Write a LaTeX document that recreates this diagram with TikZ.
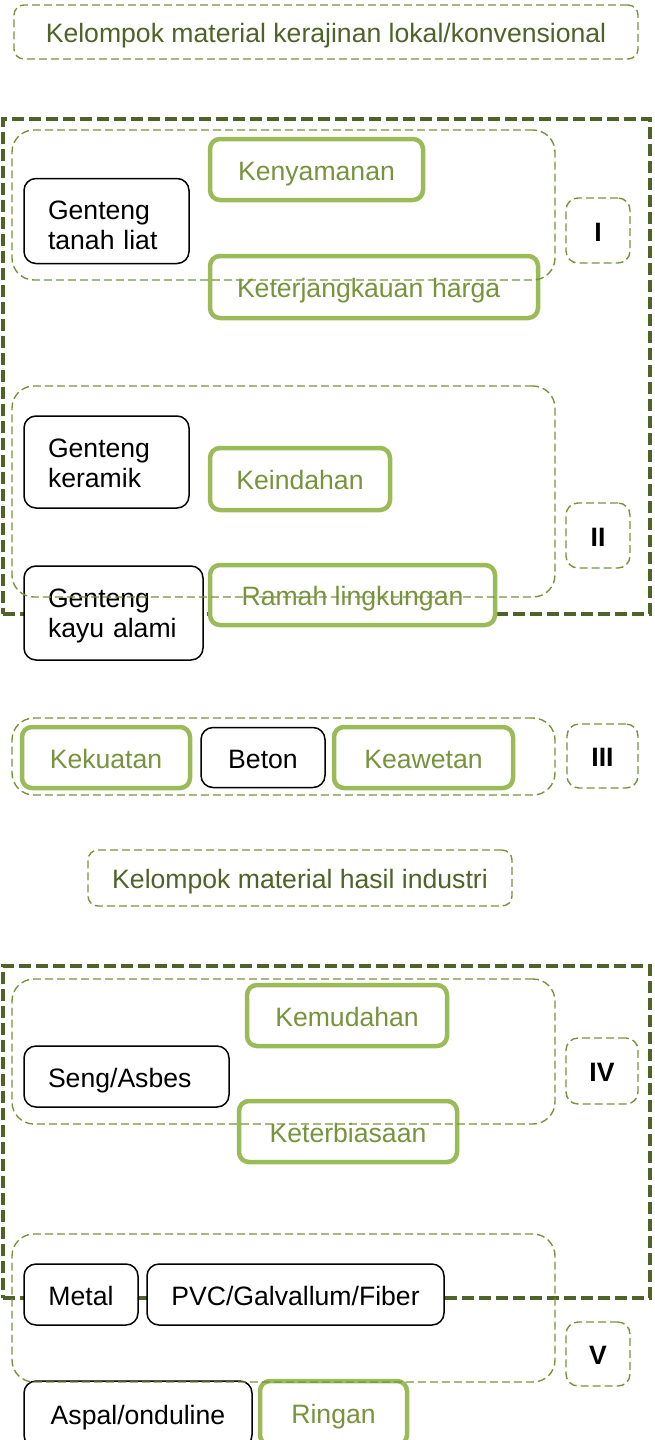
\documentclass[tikz,border=0pt]{standalone}
\usepackage{fontspec}
\setmainfont{Liberation Sans}
\usetikzlibrary{positioning}

\begin{document}
\begin{tikzpicture}[x=1pt,y=-1pt,
	every node/.style={font=\fontsize{26.6}{30}\selectfont,inner sep=0pt,text height=25pt,text depth=4pt},
	material node/.style={draw=black,line width=1.5pt,rounded corners=12pt,fill=white,align=left},
	left node/.style={inner xsep=24pt,align=left},
	criteria node/.style={draw=lightgreen,line width=4.5pt,rounded corners=10pt,fill=white,text=midgreen},
	group box/.style={draw=midgreen,line width=1.4pt,dash pattern=on 8pt off 4pt,rounded corners=22pt},
	level node/.style={draw=midgreen,line width=1.4pt,dash pattern=on 8pt off 4pt,rounded corners=12pt,
		font=\fontsize{26.6}{30}\selectfont\bfseries},
	title node/.style={draw=midgreen,line width=1.4pt,dash pattern=on 8pt off 4pt,rounded corners=10pt,text=darkolive},
	frame box/.style={draw=darkolive,line width=3.5pt,dash pattern=on 12pt off 5pt}]
	
	\definecolor{darkolive}{RGB}{79,98,40}
	\definecolor{midgreen}{RGB}{119,147,60}
	\definecolor{lightgreen}{RGB}{155,187,89}
	
	\useasboundingbox (0,0) rectangle (655,1440);
	
	% frames
	\node[frame box, minimum width=647pt, minimum height=495pt] (frameA) at (326.5,366.5) {};
	\node[frame box, minimum width=647pt, minimum height=332pt] (frameB) at (326.5,1132) {};
	
	% lokal / konvensional
	\node[title node, minimum width=624pt, minimum height=54pt] (lokal) at (326,32) {Kelompok material kerajinan lokal/konvensional};
	
	\node[material node, left node, text width=117pt, text height=41pt, text depth=44pt] (tanah) at (106.5,221) {Genteng\\tanah liat};
	\node[criteria node, minimum width=213pt, minimum height=61pt] (nyaman) at (316.5,169.5) {Kenyamanan};
	\node[criteria node, inner xsep=27pt, text width=274pt, align=left, minimum height=62pt] (harga) at (374,287) {Keterjangkauan harga};
	
	\node[material node, left node, text width=117pt, text height=41pt, text depth=51pt] (keramik) at (106.5,462) {Genteng\\keramik};
	\node[criteria node, minimum width=180pt, minimum height=62pt] (indah) at (300,479) {Keindahan};
	\node[material node, left node, text width=131pt, text height=41pt, text depth=53pt] (kayu) at (113.5,613) {Genteng\\kayu alami};
	\node[criteria node, minimum width=285pt, minimum height=60pt] (ramah) at (352.5,595) {Ramah lingkungan};
	
	\node[criteria node, minimum width=168pt, minimum height=61pt] (kuat) at (106,757.5) {Kekuatan};
	\node[material node, minimum width=124pt, minimum height=60pt, right=8pt of kuat] (beton) {Beton};
	\node[criteria node, minimum width=179pt, minimum height=61pt, right=6pt of beton] (awet) {Keawetan};
	
	% industri
	\node[title node, minimum width=424pt, minimum height=56pt] (industri) at (300,878) {Kelompok material hasil industri};
	
	\node[criteria node, minimum width=200pt, minimum height=61pt] (mudah) at (347,1015.5) {Kemudahan};
	\node[material node, left node, text width=157pt, minimum height=61pt] (seng) at (126.5,1076.5) {Seng/Asbes};
	\node[criteria node, minimum width=218pt, minimum height=61pt] (biasa) at (348,1131.5) {Keterbiasaan};
	
	\node[material node, minimum width=114pt, minimum height=61pt] (metal) at (81,1294.5) {Metal};
	\node[material node, minimum width=297pt, minimum height=61pt] (pvc) at (295.5,1294.5) {PVC/Galvallum/Fiber};
	\node[material node, minimum width=228pt, minimum height=66pt] (aspal) at (138,1414) {Aspal/onduline};
	\node[criteria node, minimum width=147pt, minimum height=64pt] (ringan) at (333.5,1413) {Ringan};
	
	% groups
	\node[group box, minimum width=543pt, minimum height=150pt] (grpI) at (283.5,205) {};
	\node[group box, minimum width=543pt, minimum height=211pt] (grpII) at (283.5,491.5) {};
	\node[group box, minimum width=543pt, minimum height=77pt] (grpIII) at (283.5,756.5) {};
	\node[group box, minimum width=543pt, minimum height=145pt] (grpIV) at (283.5,1051.5) {};
	\node[group box, minimum width=543pt, minimum height=148pt] (grpV) at (283.5,1308) {};
	
	\node[level node, minimum width=64pt, minimum height=65pt] (levI) at (598,230.5) {I};
	\node[level node, minimum width=64pt, minimum height=65pt] (levII) at (598,535.5) {II};
	\node[level node, minimum width=71pt, minimum height=64pt] (levIII) at (602.5,756) {III};
	\node[level node, minimum width=72pt, minimum height=66pt] (levIV) at (602,1071) {IV};
	\node[level node, minimum width=64pt, minimum height=64pt] (levV) at (598,1354) {V};
\end{tikzpicture}
\end{document}
